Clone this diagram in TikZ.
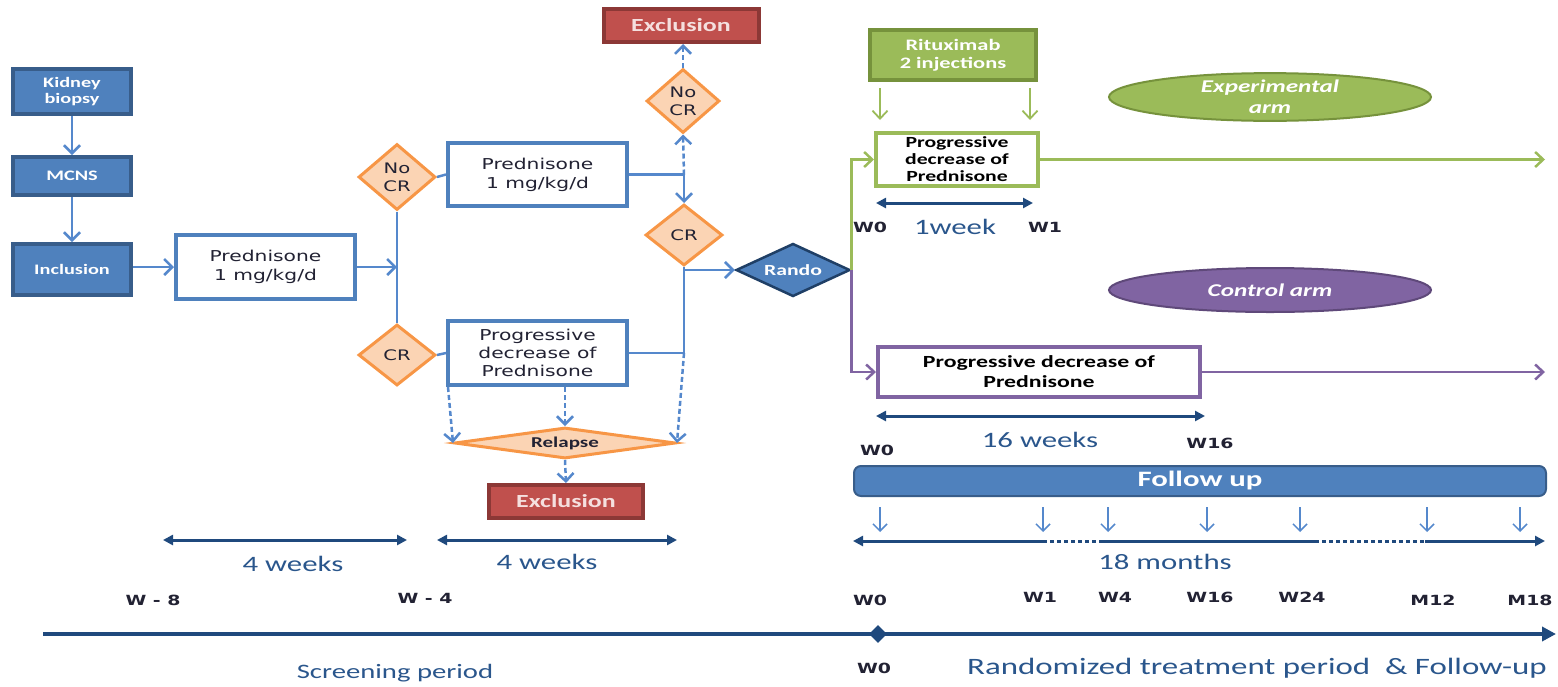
\documentclass[tikz,border=0pt]{standalone}
\usepackage{fontspec}
\setmainfont{Carlito}[FakeStretch=1.4]
\newfontfamily\vfont{DejaVu Sans}[FakeStretch=1.35]
\usetikzlibrary{shapes.geometric,arrows.meta}
\definecolor{boxblue}{HTML}{4F81BD}
\definecolor{boxedge}{HTML}{385D8A}
\definecolor{randoedge}{HTML}{1F3F66}
\definecolor{linkblue}{HTML}{5588CC}
\definecolor{orng}{HTML}{F79646}
\definecolor{orngfill}{HTML}{FBD4B4}
\definecolor{exred}{HTML}{C0504D}
\definecolor{exedge}{HTML}{8C3836}
\definecolor{extext}{HTML}{F5E0DF}
\definecolor{grn}{HTML}{9BBB59}
\definecolor{grnedge}{HTML}{76923C}
\definecolor{purp}{HTML}{8064A2}
\definecolor{purpedge}{HTML}{5F497A}
\definecolor{navy}{HTML}{1F497D}
\definecolor{navytext}{HTML}{2A568C}
\definecolor{lbl}{HTML}{222233}
\newcommand\fsz[2]{\fontsize{#1}{#2}\selectfont}
\begin{document}
\begin{tikzpicture}[x=1pt,y=-1pt,
  darkbox/.style={draw=boxedge,fill=boxblue,line width=4,text=white,font=\bfseries\fsz{14.5}{16},align=center,inner sep=0},
  whitebox/.style={draw=boxblue,fill=white,line width=4,text=lbl,font=\vfont\fsz{15}{19},align=center,inner sep=0},
  odiam/.style={diamond,draw=orng,fill=orngfill,line width=3,text=lbl,font=\vfont\fsz{14.5}{18},align=center,inner sep=0},
  exbox/.style={draw=exedge,fill=exred,line width=4,text=extext,font=\bfseries\fsz{18.5}{20},inner sep=0},
  arr/.style={draw=linkblue,line width=2.5,-{Straight Barb[length=8,width=16]}},
  lnk/.style={draw=linkblue,line width=2.5},
  darr/.style={draw=linkblue,line width=2.5,dash pattern=on 5 off 3,-{Straight Barb[length=8,width=16]}},
  garr/.style={draw=grn,line width=2.5,-{Straight Barb[length=8,width=15]}},
  parr/.style={draw=purp,line width=2.5,-{Straight Barb[length=8,width=15]}},
  sarr/.style={draw=linkblue,line width=1.5,-{Straight Barb[length=7,width=14]}},
  dim/.style={draw=navy,line width=3,{Triangle[length=10,width=10]}-{Triangle[length=10,width=10]}},
  dimseg/.style={draw=navy,line width=3},
  dotseg/.style={draw=navy,line width=3,dash pattern=on 4 off 3},
  tlab/.style={text=lbl,font=\vfont\bfseries\fsz{14}{16},inner sep=0},
  wlab/.style={text=navytext,font=\fsz{22}{24},inner sep=0},
]
\useasboundingbox (0,0) rectangle (1558,686);

% ---------------- left column
\node[darkbox,minimum width=118,minimum height=45] (kid) at (72,91.5) {Kidney\\biopsy};
\node[darkbox,minimum width=118,minimum height=38] (mcns) at (72,176) {MCNS};
\node[darkbox,minimum width=118,minimum height=51] (incl) at (72,269.5) {Inclusion};
\node[whitebox,minimum width=179,minimum height=64] (pred1) at (265.5,267) {Prednisone\\1 mg/kg/d};

\node[odiam,minimum width=77,minimum height=66] (nocr1) at (397,177) {No\\CR};
\node[odiam,minimum width=77,minimum height=61] (cr1) at (397,355) {CR};
\node[whitebox,minimum width=179,minimum height=63] (pred2) at (537.5,174.5) {Prednisone\\1 mg/kg/d};
\node[whitebox,minimum width=179,minimum height=64,font=\vfont\fsz{15}{18}] (prog1) at (537.5,353) {Progressive\\decrease of\\Prednisone};

\node[odiam,minimum width=73,minimum height=64] (nocr2) at (683,101) {No\\CR};
\node[odiam,minimum width=77,minimum height=61] (cr2) at (684,235) {CR};
\node[exbox,minimum width=155,minimum height=33] (ex1) at (681,25.5) {Exclusion};
\node[diamond,aspect=7,draw=orng,fill=orngfill,line width=3,text=lbl,font=\bfseries\fsz{15}{17},inner sep=0,minimum width=221,minimum height=31] (rel) at (565,443) {Relapse};
\node[exbox,minimum width=154,minimum height=33] (ex2) at (566,501.5) {Exclusion};

\node[diamond,aspect=2.4,draw=randoedge,fill=boxblue,line width=2.5,text=white,font=\bfseries\fsz{15.5}{17},inner sep=0,minimum width=114,minimum height=53] (rando) at (793,270) {Rando};

% ---------------- left connectors
\draw[arr] (kid) -- (mcns);
\draw[arr] (mcns) -- (incl);
\draw[arr] (incl.east |- pred1.west) -- (pred1.west);
\draw[lnk] (nocr1.south) -- (cr1.north);
\coordinate (jl) at (pred1.east -| nocr1.south);
\draw[arr] (pred1.east) -- (jl);
\draw[lnk] (nocr1.east) -- (pred2.west);
\draw[lnk] (cr1.east) -- (prog1.west);
\coordinate (j1) at (pred2.east -| cr2.north);
\coordinate (j3) at (prog1.east -| cr2.south);
\draw[arr] (pred2.east) -- (j1) -- (cr2.north);
\draw[lnk] (prog1.east) -- (j3) -- (cr2.south);
\draw[arr] (cr2.south) |- (rando.west);
\draw[darr] (j1) -- (nocr2.south);
\draw[darr] (nocr2.north) -- (ex1.south -| nocr2.north);
\draw[darr] ([xshift=2]prog1.south west) -- (rel.west);
\draw[darr] (prog1.south -| rel.north) -- (rel.north);
\draw[darr] (j3) -- (rel.east);
\draw[darr] (rel.south) -- (ex2.north);

% ---------------- right part
\node[draw=grnedge,fill=grn,line width=4,text=white,font=\bfseries\fsz{16}{18.5},align=center,inner sep=0,minimum width=166,minimum height=50] (rit) at (953,55) {Rituximab\\2 injections};
\node[draw=grn,fill=white,line width=4,text=black,font=\bfseries\fsz{15.5}{17},align=center,inner sep=0,minimum width=162,minimum height=53] (gprog) at (957,159.5) {Progressive\\decrease of\\Prednisone};
\node[draw=purp,fill=white,line width=4,text=black,font=\bfseries\fsz{17}{20},align=center,inner sep=0,minimum width=322,minimum height=50] (pprog) at (1039,372) {Progressive decrease of\\Prednisone};
\node[ellipse,draw=grnedge,fill=grn,line width=2,text=white,font=\bfseries\itshape\fsz{18}{21},align=center,inner sep=0,minimum width=322,minimum height=44] (exp) at (1270,97) {Experimental\\arm};
\node[ellipse,draw=purpedge,fill=purp,line width=2,text=white,font=\bfseries\itshape\fsz{18}{21},align=center,inner sep=0,minimum width=322,minimum height=44] (ctrl) at (1270,290) {Control arm};

\coordinate (gend) at (1545,159.5);
\coordinate (pend) at (1545,372);
\draw[garr] (rando.east) |- (gprog.west);
\draw[parr] (rando.east) |- (pprog.west);
\draw[garr] (gprog.east) -- (gend);
\draw[parr] (pprog.east) -- (pend);
\coordinate (rx1) at (880,0);
\coordinate (rx2) at (1030,0);
\draw[garr,line width=1.8,shorten <=6,shorten >=11] (rit.south -| rx1) -- (gprog.north -| rx1);
\draw[garr,line width=1.8,shorten <=6,shorten >=11] (rit.south -| rx2) -- (gprog.north -| rx2);

% 1 week
\coordinate (wa) at (876,203);
\coordinate (wb) at (1033,203);
\draw[dim] (wa) -- (wb);
\node[tlab] (w0a) at (870,227) {W0};
\node[wlab,font=\fsz{22}{24}] (wk1) at (955,227) {1week};
\node[tlab] (w1a) at (1045,227) {W1};

% 16 weeks
\coordinate (sa) at (876,416);
\coordinate (sb) at (1205,416);
\draw[dim] (sa) -- (sb);
\node[tlab] (w0b) at (877,450) {W0};
\node[wlab] (wk16) at (1040,440) {16 weeks};
\node[tlab] (w16b) at (1210,443) {W16};

% Follow up
\node[draw=boxedge,fill=boxblue,line width=2,rounded corners=7,text=white,font=\bfseries\fsz{22}{24},inner sep=0,minimum width=692,minimum height=30] (fu) at (1200,481) {Follow up};
\foreach \x/\n in {880/a,1043/b,1108/c,1207/d,1300/e,1427/f,1520/g}{
  \coordinate (fa\n) at (\x,507);
  \coordinate (fb\n) at (\x,532);
  \draw[sarr] (fa\n) -- (fb\n);
}

% 18 months
\coordinate (m0) at (853,541);
\coordinate (m1) at (1043,541);
\coordinate (m2) at (1100,541);
\coordinate (m3) at (1315,541);
\coordinate (m4) at (1425,541);
\coordinate (m5) at (1545,541);
\draw[dimseg,{Triangle[length=10,width=10]}-] (m0) -- (m1);
\draw[dotseg] (m1) -- (m2);
\draw[dimseg] (m2) -- (m3);
\draw[dotseg] (m3) -- (m4);
\draw[dimseg,-{Triangle[length=10,width=10]}] (m4) -- (m5);
\node[wlab] (m18t) at (1165,562) {18 months};
\node[tlab] (lw0) at (870,600) {W0};
\node[tlab] (lw1) at (1040,597) {W1};
\node[tlab] (lw4) at (1115,597) {W4};
\node[tlab] (lw16) at (1210,597) {W16};
\node[tlab] (lw24) at (1302,597) {W24};
\node[tlab] (lm12) at (1433,600) {M12};
\node[tlab] (lm18) at (1530,600) {M18};

% screening dims
\coordinate (da) at (163,540);
\coordinate (db) at (407,540);
\coordinate (dc) at (437,540);
\coordinate (dd) at (677,540);
\draw[dim] (da) -- (db);
\draw[dim] (dc) -- (dd);
\node[wlab] (wk4a) at (293,564) {4 weeks};
\node[wlab] (wk4b) at (547,562) {4 weeks};
\node[tlab] (wm8) at (153,600) {W - 8};
\node[tlab] (wm4) at (425,598) {W - 4};

% main timeline
\coordinate (ta) at (43,634);
\coordinate (tb) at (1556,634);
\draw[navy,line width=4,-{Triangle[length=14,width=14]}] (ta) -- (tb);
\node[diamond,fill=navy,inner sep=0,minimum width=18,minimum height=18] (tw0) at (878,634) {};
\node[tlab] (tw0l) at (874,668) {W0};
\node[wlab,font=\fsz{20.5}{22}] (scr) at (395,673) {Screening period};
\node[wlab,font=\fsz{23.5}{25}] (rnd) at (1257,668) {Randomized treatment period~ \& Follow-up};
\end{tikzpicture}
\end{document}
